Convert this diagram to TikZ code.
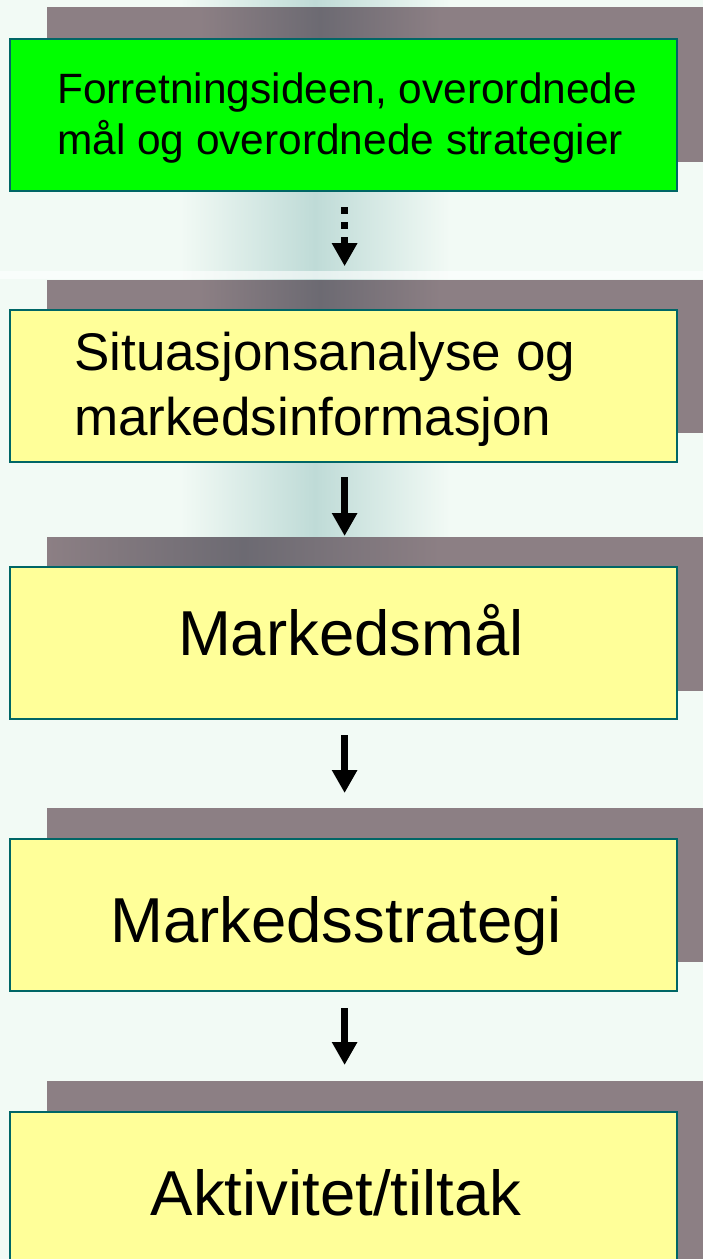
\documentclass[tikz,border=0pt]{standalone}
\usepackage{fontspec}
\setmainfont{Liberation Sans}
\usetikzlibrary{arrows.meta}
\definecolor{bgc}{HTML}{F2FAF5}
\definecolor{streak}{HTML}{BFDBD7}
\definecolor{shadowc}{HTML}{8C7F84}
\definecolor{shadowd}{HTML}{6C6A72}
\definecolor{boxy}{HTML}{FFFF99}
\definecolor{boxg}{HTML}{00FF00}
\definecolor{edgec}{HTML}{006666}
\tikzset{
  x=1pt, y=-1pt,
  shadowbar/.style={fill=shadowc, draw=none},
  flowbox/.style={draw=edgec, line width=2.2pt, fill=boxy, rectangle, inner sep=0pt,
    minimum width=667pt, minimum height=152pt, anchor=north west},
  txt/.style={inner sep=0pt, font=\fontsize{63.5}{76}\selectfont},
  flowarrow/.style={line width=6.5pt, -{Triangle[width=24pt,length=23pt]}},
  dotarrow/.style={line width=7pt, dash pattern=on 7pt off 8pt, -{Triangle[width=24pt,length=23pt]}}
}
\begin{document}
\begin{tikzpicture}
\useasboundingbox (0,0) rectangle (703,1259);
% background
\fill[bgc] (0,0) rectangle (703,1259);
\shade[left color=bgc, right color=bgc, middle color=streak] (180,0) rectangle (450,560);
\fill[white, opacity=0.6] (0,271) rectangle (703,279);
% shadow bars
\fill[shadowbar] (47,7) rectangle (703,162);
\shade[left color=shadowc, right color=shadowc, middle color=shadowd] (200,7) rectangle (440,162);
\fill[shadowbar] (47,280) rectangle (703,433);
\shade[left color=shadowc, right color=shadowc, middle color=shadowd] (200,280) rectangle (440,433);
\fill[shadowbar] (47,537) rectangle (703,691);
\shade[left color=shadowc, right color=shadowc, middle color=shadowd] (47,537) rectangle (440,691);
\fill[shadowbar] (47,808) rectangle (703,962);
\fill[shadowbar] (47,1081) rectangle (703,1259);
% boxes
\node[flowbox, fill=boxg] (b1) at (9,38) {};
\node[flowbox] (b2) at (9,309) {};
\node[flowbox] (b3) at (9,566) {};
\node[flowbox] (b4) at (9,838) {};
\node[flowbox, minimum height=170pt] (b5) at (9,1111) {};
% texts
\node[txt, font=\fontsize{42.4}{51}\selectfont, align=left, anchor=base west] (t1) at (57,154)
  {Forretningsideen, overordnede\\mål og overordnede strategier};
\node[txt, font=\fontsize{53}{65}\selectfont, align=left, anchor=base west] (t2) at (74,435)
  {Situasjonsanalyse og\\markedsinformasjon};
\node[txt, anchor=base] (t3) at (351,655) {Markedsmål};
\node[txt, anchor=base] (t4) at (336,942) {Markedsstrategi};
\node[txt, anchor=base] (t5) at (336,1215) {Aktivitet/tiltak};
% arrows
\draw[dotarrow] ([xshift=1pt]b1.south) ++(0,15) coordinate (a1s) -- ++(0,59) coordinate (a1e);
\draw[flowarrow, shorten <=14pt, shorten >=30pt] ([xshift=1pt]b2.south) -- ([xshift=1pt]b3.north);
\draw[flowarrow, shorten <=15pt, shorten >=45pt] ([xshift=1pt]b3.south) -- ([xshift=1pt]b4.north);
\draw[flowarrow, shorten <=16pt, shorten >=46pt] ([xshift=1pt]b4.south) -- ([xshift=1pt]b5.north);
\end{tikzpicture}
\end{document}
